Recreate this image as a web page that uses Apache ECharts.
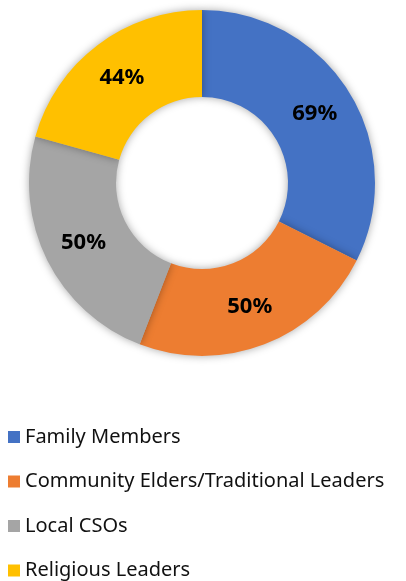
<!DOCTYPE html>
<html>
<head>
<meta charset="utf-8">
<script src="https://cdn.jsdelivr.net/npm/echarts@6/dist/echarts.min.js"></script>
<style>
  html, body { margin: 0; padding: 0; background: #fff; }
  #chart { width: 406px; height: 581px; }
</style>
</head>
<body>
<div id="chart"></div>
<script>
const categories = ['Family Members', 'Community Elders/Traditional Leaders', 'Local CSOs', 'Religious Leaders']
const values = [69, 50, 50, 44]
const colors = ['#4472C4', '#ED7D31', '#A5A5A5', '#FFC000']

let chart = echarts.init(document.getElementById('chart'))
let option = {
  color: colors,
  legend: {
    orient: 'vertical',
    left: 8,
    top: 427,
    padding: 0,
    itemWidth: 12,
    itemHeight: 12,
    itemGap: 24.5,
    icon: 'rect',
    textStyle: {
      fontFamily: 'Noto Sans',
      fontSize: 20,
      lineHeight: 20,
      color: '#111'
    },
    data: categories
  },
  series: [
    {
      type: 'pie',
      center: [202, 183],
      radius: [86, 173],
      startAngle: 90,
      clockwise: true,
      silent: true,
      itemStyle: {
        shadowBlur: 8,
        shadowColor: 'rgba(0,0,0,0.35)'
      },
      label: {
        show: true,
        position: 'inside',
        formatter: '{c}%',
        fontFamily: 'Noto Sans',
        fontWeight: 'bold',
        fontSize: 22,
        color: '#000'
      },
      labelLine: { show: false },
      data: categories.map((name, i) => ({ name: name, value: values[i] }))
    }
  ]
}
chart.setOption(option)
</script>
</body>
</html>
